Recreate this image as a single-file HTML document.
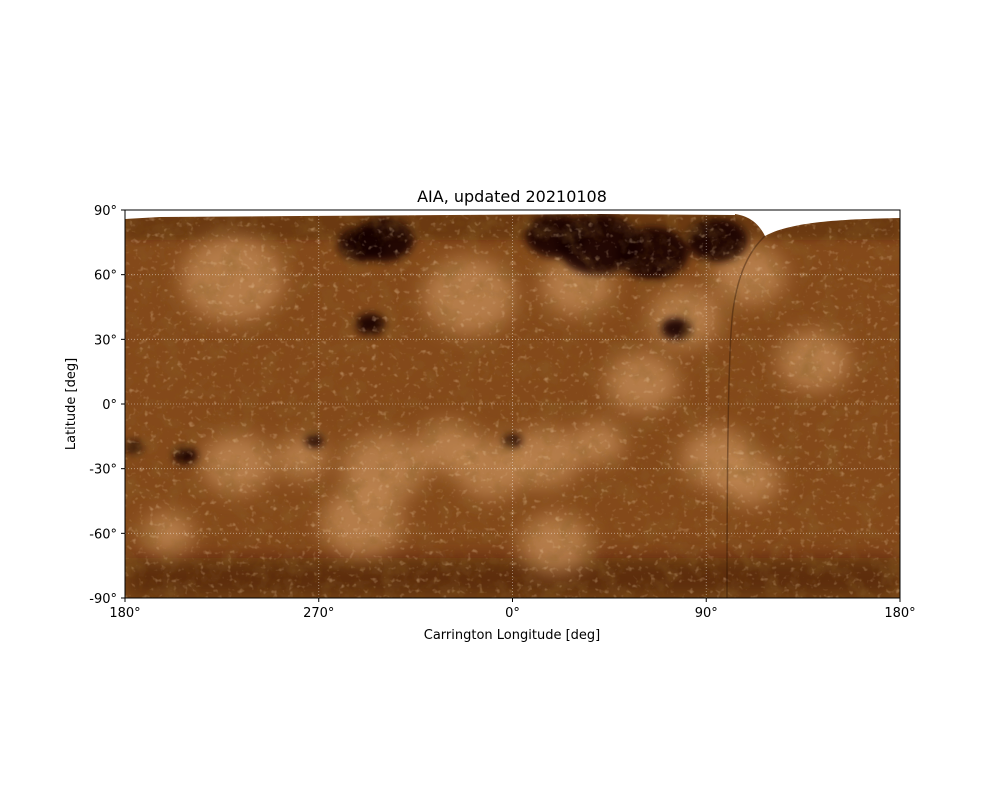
<!DOCTYPE html>
<html><head><meta charset="utf-8"><style>
body{margin:0;background:#fff;font-family:"Liberation Sans","DejaVu Sans",sans-serif;}
svg text{font-family:"DejaVu Sans","Liberation Sans",sans-serif;font-size:13px;fill:#000;}
</style></head><body>
<svg id="chart" width="1000" height="800" viewBox="0 0 1000 800">
<defs>
<filter id="tex" x="0" y="0" width="100%" height="100%">
<feTurbulence type="fractalNoise" baseFrequency="0.05" numOctaves="4" seed="7" result="n"/>
<feColorMatrix in="n" type="matrix" values="0 0 0 0 0.25  0 0 0 0 0.12  0 0 0 0 0.02  1.0 0 0 0 -0.45" result="c"/>
<feComposite in="c" in2="SourceGraphic" operator="in"/>
</filter>
<filter id="tex2" x="0" y="0" width="100%" height="100%">
<feTurbulence type="fractalNoise" baseFrequency="0.18" numOctaves="2" seed="3" result="n"/>
<feColorMatrix in="n" type="matrix" values="0 0 0 0 0.9  0 0 0 0 0.65  0 0 0 0 0.4  0 1.2 0 0 -0.72" result="c"/>
<feComposite in="c" in2="SourceGraphic" operator="in"/>
</filter>
<filter id="blur8" x="-50%" y="-50%" width="200%" height="200%"><feGaussianBlur stdDeviation="10"/></filter>
<filter id="blur4" x="-50%" y="-50%" width="200%" height="200%"><feGaussianBlur stdDeviation="4"/></filter>
<clipPath id="plotclip"><rect x="125" y="210" width="775" height="388"/></clipPath>
</defs>
<text x="512" y="202" text-anchor="middle" style="font-size:16px">AIA, updated 20210108</text>
<g id="plot" clip-path="url(#plotclip)"></g>
<g id="grid"></g>
<rect x="125" y="210" width="775" height="388" fill="none" stroke="#000" stroke-width="1"/>
<g id="axes"></g>
<text x="512" y="639" text-anchor="middle">Carrington Longitude [deg]</text>
<text transform="translate(75,404) rotate(-90)" text-anchor="middle">Latitude [deg]</text>
</svg>
<script>
const xTickPos=[180,270,360,450,540];
const xTickLabels=["180°","270°","0°","90°","180°"];
const yTicks=[90,60,30,0,-30,-60,-90];
const yTickLabels=["90°","60°","30°","0°","-30°","-60°","-90°"];
// features: plot longitude (180..540), latitude, radius (deg)
const brightLon=[232,262,300,330,350,375,400,420,455,470,500,230,340,390,440,470,200,290,380];
const brightLat=[-28,-25,-30,-20,-30,-25,-18,10,-25,-35,20,58,50,55,40,60,-60,-55,-65];
const brightR=[14,10,16,12,14,14,10,14,14,12,14,20,18,14,14,14,10,16,14];
const darkLon=[208,268,294,360,436,400,380,425,455,300,290,184];
const darkLat=[-24,-17,37,-17,35,74,78,70,76,76,74,-20];
const darkR=[4,3,5,3,5,14,10,12,10,10,8,3];
const L=125,R=900,T=210,B=598;
const xS=v=>L+(v-180)/360*(R-L);
const yS=v=>T+(90-v)/180*(B-T);
const NS="http://www.w3.org/2000/svg";
function mk(tag,attrs,parent){const e=document.createElementNS(NS,tag);for(const k in attrs)e.setAttribute(k,attrs[k]);parent.appendChild(e);return e;}
const plot=document.getElementById('plot');
let e=mk('rect',{x:L,y:T,width:R-L,height:B-T,fill:'#84491a'},plot);


let p=mk('rect',{x:L,y:B-40,width:R-L,height:40,fill:'#3a1804','fill-opacity':0.55,filter:'url(#blur8)'},plot);


p=mk('rect',{x:L,y:T,width:R-L,height:30,fill:'#3a1804','fill-opacity':0.35,filter:'url(#blur4)'},plot);


const bg=mk('g',{filter:'url(#blur8)'},plot);


brightLon.forEach((lo,i)=>{const c=mk('ellipse',{cx:xS(lo),cy:yS(brightLat[i]),rx:brightR[i]/360*(R-L)*1.2,ry:brightR[i]/180*(B-T),fill:'#c68e58','fill-opacity':0.75},bg);

});
const dg=mk('g',{filter:'url(#blur4)'},plot);


darkLon.forEach((lo,i)=>{const c=mk('ellipse',{cx:xS(lo),cy:yS(darkLat[i]),rx:darkR[i]/360*(R-L)*1.4,ry:darkR[i]/180*(B-T),fill:'#140600','fill-opacity':0.9},dg);

});
let t=mk('rect',{x:L,y:T,width:R-L,height:B-T,fill:'#000',filter:'url(#tex)'},plot);


t=mk('rect',{x:L,y:T,width:R-L,height:B-T,fill:'#000',filter:'url(#tex2)'},plot);


let w=mk('path',{d:`M765,236 C790,222 840,219 ${R},218 L${R},${T} L735,${T} L735,214 C748,216 758,222 765,236 Z`,fill:'#fff'},plot);


w=mk('path',{d:`M${L},${T} L735,${T} L735,215 L600,214 L450,215 L300,216 L160,217 L${L},219 Z`,fill:'#fff'},plot);


let s=mk('path',{d:`M765,236 C748,252 738,275 733,310 C729,340 727,450 727,598`,fill:'none',stroke:'#2a1202','stroke-width':1.5,'stroke-opacity':0.4},plot);


const grid=document.getElementById('grid');
xTickPos.slice(1,4).forEach(v=>{const g=mk('line',{x1:xS(v),x2:xS(v),y1:T,y2:B,stroke:'#fff','stroke-opacity':0.5,'stroke-width':0.8,'stroke-dasharray':'1,2'},grid);

});
yTicks.slice(1,6).forEach(v=>{const g=mk('line',{x1:L,x2:R,y1:yS(v),y2:yS(v),stroke:'#fff','stroke-opacity':0.5,'stroke-width':0.8,'stroke-dasharray':'1,2'},grid);

});
const axes=document.getElementById('axes');
xTickPos.forEach((v,i)=>{mk('line',{x1:xS(v),x2:xS(v),y1:B,y2:B+4,stroke:'#000'},axes);
const tx=mk('text',{x:xS(v),y:B+19,'text-anchor':'middle'},axes);tx.textContent=xTickLabels[i];

});
yTicks.forEach((v,i)=>{mk('line',{x1:L-4,x2:L,y1:yS(v),y2:yS(v),stroke:'#000'},axes);
const tx=mk('text',{x:L-8,y:yS(v)+5,'text-anchor':'end'},axes);tx.textContent=yTickLabels[i];

});
</script>
</body></html>
